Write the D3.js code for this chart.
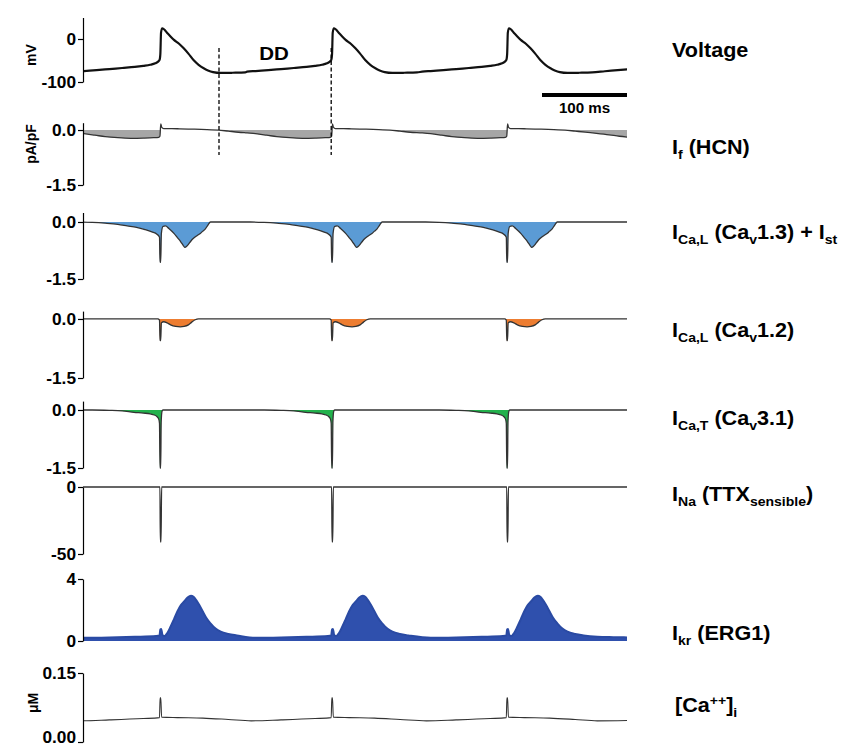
<!DOCTYPE html>
<html>
<head>
<meta charset="utf-8">
<script src="https://cdn.jsdelivr.net/npm/d3@7"></script>
<style>
  body { margin: 0; background: #fff; }
  text { font-family: "Liberation Sans", Arial, sans-serif; font-weight: bold; }
</style>
</head>
<body>
<svg id="chart"></svg>
<script>
// time of each beat upstroke (ms) and the DD markers
const beatTimes = [91, 293, 499];
const ddMarks = [160, 292];
const scaleBar = [540, 640]; // 100 ms

// one cycle of each trace, [ms relative to upstroke, value]
const voltageCycle = [[-115,-77],[-100,-76],[-90,-74.5],[-75,-72.5],[-60,-70],[-45,-67.5],[-30,-65],[-20,-62.5],
  [-12,-60],[-6,-56.5],[-3,-53],[-1,-49],[0,-35],[0.8,15],[2.2,25],[9,12],[16,-2],[22,-11],[27.5,-21.7],
  [33,-34],[39,-49],[45,-60],[51,-68],[56,-73],[62,-77],[71,-79],[85,-78.5],[100,-77.5],[115,-75],[130,-72.5],[145,-70]];
const ifCycle = [[-115,-0.06],[-100,-0.08],[-90,-0.1],[-77,-0.14],[-65,-0.18],[-50,-0.21],[-35,-0.225],[-20,-0.22],
  [-8,-0.21],[-2,-0.2],[-0.5,-0.17],[0.5,0.17],[1.5,0.08],[4,0.04],[20,0.035],[40,0.025],[55,0.01],[68,0],
  [80,-0.03],[92,-0.06],[105,-0.09],[120,-0.13],[132,-0.17],[145,-0.2]];
const icalCav13Cycle = [[-115,0],[-96,0],[-80,-0.01],[-65,-0.03],[-50,-0.06],[-39,-0.1],[-28,-0.14],[-18,-0.2],
  [-10,-0.26],[-4,-0.32],[-1,-0.4],[-0.4,-1.06],[0.4,-1.06],[1.2,-0.3],[3,-0.12],[6,-0.1],[10,-0.17],[16,-0.3],
  [20,-0.41],[24,-0.52],[27,-0.62],[29,-0.67],[31,-0.64],[33,-0.59],[36,-0.5],[39,-0.43],[43,-0.36],[47,-0.3],
  [50,-0.24],[53,-0.18],[56,-0.08],[59,0],[145,0]];
const icalCav12Cycle = [[-115,0],[-3,0],[-1,-0.03],[-0.4,-0.55],[0.4,-0.55],[1.2,-0.1],[4,-0.07],[8,-0.1],
  [12,-0.15],[18,-0.19],[23.5,-0.2],[28,-0.19],[33,-0.15],[37,-0.08],[41,-0.02],[45,0],[145,0]];
const icatCycle = [[-115,0],[-80,0],[-60,-0.01],[-45,-0.025],[-31,-0.06],[-20,-0.08],[-12,-0.1],[-7,-0.13],
  [-4,-0.17],[-2,-0.23],[-1,-0.35],[-0.4,-1.5],[0.4,-1.5],[1,-0.3],[2,-0.03],[3,0],[145,0]];
const inaCycle = [[-115,0],[-0.5,0],[0,-41],[0.8,-41],[1.5,0],[145,0]];
const ikrCycle = [[-115,0.22],[-90,0.21],[-60,0.23],[-30,0.27],[-5,0.32],[-1,0.35],[0,0.75],[1,0.78],[2.5,0.4],
  [5,0.32],[8,0.5],[12,0.92],[16,1.4],[20,1.9],[24,2.3],[28,2.55],[32,2.8],[36,2.92],[39,2.85],[42,2.65],
  [46,2.3],[50,1.9],[54,1.5],[59,1.14],[65,0.8],[71,0.6],[80,0.45],[90,0.36],[106,0.28],[125,0.25],[145,0.23]];
const caCycle = [[-115,0.046],[-95,0.046],[-60,0.048],[-20,0.051],[-1,0.053],[-0.3,0.096],[0.5,0.096],
  [1.5,0.054],[20,0.053],[50,0.052],[80,0.049],[106,0.046],[145,0.047]];

// tick values and their printed labels
const voltageTicks = [0, -100],   voltageTickLabels = ["0", "-100"];
const currentTicks = [0, -1.5],   currentTickLabels = ["0.0", "-1.5"];
const inaTicks = [0, -50],        inaTickLabels = ["0", "-50"];
const ikrTicks = [0, 4],          ikrTickLabels = ["0", "4"];
const caTicks = [0, 0.15],        caTickLabels = ["0.00", "0.15"];

const W = 846, H = 745;
const sx = 1.08; // the figure text is a bit wide

const svg = d3.select("#chart").attr("width", W).attr("height", H);

const x = d3.scaleLinear().domain([0, 640]).range([83, 627]);

svg.append("clipPath").attr("id", "plotclip")
  .append("rect").attr("x", 83).attr("y", 0).attr("width", 544).attr("height", H);

// repeat a cycle at every beat, each beat owns the time up to the midpoints
function buildSeries(cycle) {
  const pts = [];
  beatTimes.forEach((b, i) => {
    const lo = i === 0 ? -Infinity : (beatTimes[i - 1] + b) / 2;
    const hi = i === beatTimes.length - 1 ? Infinity : (b + beatTimes[i + 1]) / 2;
    cycle.forEach(([r, v]) => {
      const t = b + r;
      if (t >= lo && t < hi) pts.push([t, v]);
    });
  });
  return pts;
}

const panels = [
  {cycle: voltageCycle, domain: [-100, 50], range: [82, 17.5], ticks: voltageTicks, labels: voltageTickLabels,
   stroke: "#111", width: 2.2},
  {cycle: ifCycle, domain: [-1.5, 0.2], range: [185, 122.7], ticks: currentTicks, labels: currentTickLabels,
   stroke: "#333", width: 1.3, fill: "#a6a6a6", negOnly: true},
  {cycle: icalCav13Cycle, domain: [-1.5, 0.25], range: [279, 212.5], ticks: currentTicks, labels: currentTickLabels,
   stroke: "#333", width: 1.3, fill: "#5b9bd5"},
  {cycle: icalCav12Cycle, domain: [-1.5, 0.2], range: [378, 311.1], ticks: currentTicks, labels: currentTickLabels,
   stroke: "#333", width: 1.3, fill: "#ed7d31"},
  {cycle: icatCycle, domain: [-1.5, 0.23], range: [468, 401.1], ticks: currentTicks, labels: currentTickLabels,
   stroke: "#333", width: 1.3, fill: "#22b14c"},
  {cycle: inaCycle, domain: [-50, 0], range: [554, 487], ticks: inaTicks, labels: inaTickLabels,
   stroke: "#333", width: 1.3},
  {cycle: ikrCycle, domain: [0, 4], range: [641, 579], ticks: ikrTicks, labels: ikrTickLabels,
   stroke: "#2a4aa3", width: 2, fill: "#2f50ad"},
  {cycle: caCycle, domain: [0, 0.15], range: [742, 673], ticks: caTicks, labels: caTickLabels,
   stroke: "#333", width: 1.1, lowLabelUp: 5}
];

panels.forEach(p => {
  const y = d3.scaleLinear().domain(p.domain).range(p.range);
  const series = buildSeries(p.cycle);
  const g = svg.append("g");

  if (p.fill) {
    const area = d3.area()
      .x(d => x(d[0]))
      .y0(y(0))
      .y1(d => y(p.negOnly ? Math.min(d[1], 0) : d[1]))
      .curve(d3.curveMonotoneX);
    g.append("path").datum(series)
      .attr("clip-path", "url(#plotclip)")
      .attr("fill", p.fill)
      .attr("d", area);
  }

  const line = d3.line()
    .x(d => x(d[0]))
    .y(d => y(d[1]))
    .curve(d3.curveMonotoneX);
  g.append("path").datum(series)
    .attr("clip-path", "url(#plotclip)")
    .attr("fill", "none")
    .attr("stroke", p.stroke)
    .attr("stroke-width", p.width)
    .attr("stroke-linejoin", "round")
    .attr("d", line);

  // left axis
  const axis = d3.axisLeft(y)
    .tickValues(p.ticks)
    .tickFormat((d, i) => p.labels[i])
    .tickSize(5)
    .tickSizeOuter(0)
    .tickPadding(1.5);
  const ag = svg.append("g").attr("transform", "translate(83,0)").call(axis);
  ag.select(".domain").attr("stroke", "#000").attr("stroke-width", 1.2);
  ag.selectAll(".tick line").attr("stroke", "#000").attr("stroke-width", 1.2);
  ag.selectAll(".tick text")
    .attr("font-family", null)
    .attr("font-size", 16)
    .attr("fill", "#000")
    .attr("transform", `scale(${sx},1)`);
  // the bottom label of the last panel sits against the page edge
  if (p.lowLabelUp) ag.selectAll(".tick text").filter(d => d === p.domain[0]).attr("y", -p.lowLabelUp);
  ag.attr("font-family", null).attr("font-size", null);
});

// DD markers
svg.selectAll(".dd").data(ddMarks).enter().append("line")
  .attr("x1", d => x(d)).attr("x2", d => x(d))
  .attr("y1", 48).attr("y2", 155)
  .attr("stroke", "#000").attr("stroke-width", 1.3)
  .attr("stroke-dasharray", "4,2.5");
svg.append("text")
  .attr("transform", `translate(${x(d3.mean(ddMarks)) - 1},60) scale(${sx},1)`)
  .attr("text-anchor", "middle")
  .attr("font-size", 19)
  .text("DD");

// scale bar
svg.append("rect")
  .attr("x", x(scaleBar[0])).attr("width", x(scaleBar[1]) - x(scaleBar[0]))
  .attr("y", 93).attr("height", 4).attr("fill", "#000");
svg.append("text")
  .attr("transform", `translate(${(x(scaleBar[0]) + x(scaleBar[1])) / 2},113) scale(${sx},1)`)
  .attr("text-anchor", "middle")
  .attr("font-size", 14)
  .text("100 ms");

// unit labels
[["mV", 31, 55], ["pA/pF", 31, 144], ["\u03bcM", 33, 703]].forEach(([t, cx, cy]) => {
  svg.append("text")
    .attr("transform", `translate(${cx},${cy}) rotate(-90)`)
    .attr("text-anchor", "middle")
    .attr("dy", "0.35em")
    .attr("font-size", 14)
    .text(t);
});

// trace names, pieces are [text, "sub"|"sup"]
const names = [
  {y: 57,  parts: [["Voltage"]]},
  {y: 154, parts: [["I"], ["f", "sub"], [" (HCN)"]]},
  {y: 239, parts: [["I"], ["Ca,L", "sub"], [" (Ca"], ["v", "sub"], ["1.3) + I"], ["st", "sub"]]},
  {y: 337, parts: [["I"], ["Ca,L", "sub"], [" (Ca"], ["v", "sub"], ["1.2)"]]},
  {y: 425, parts: [["I"], ["Ca,T", "sub"], [" (Ca"], ["v", "sub"], ["3.1)"]]},
  {y: 501, parts: [["I"], ["Na", "sub"], [" (TTX"], ["sensible", "sub"], [")"]]},
  {y: 640, parts: [["I"], ["kr", "sub"], [" (ERG1)"]]},
  {y: 712, parts: [["[Ca"], ["++", "sup"], ["]"], ["i", "sub"]], x: 675}
];
const shift = {sub: 5, sup: -7};
names.forEach(n => {
  const t = svg.append("text")
    .attr("transform", `translate(${n.x || 672},${n.y}) scale(${sx},1)`)
    .attr("font-size", 20);
  let cur = 0;
  n.parts.forEach(([s, kind]) => {
    const off = kind ? shift[kind] : 0;
    t.append("tspan")
      .attr("dy", off - cur)
      .attr("font-size", kind ? 13 : 20)
      .text(s);
    cur = off;
  });
});
</script>
</body>
</html>
